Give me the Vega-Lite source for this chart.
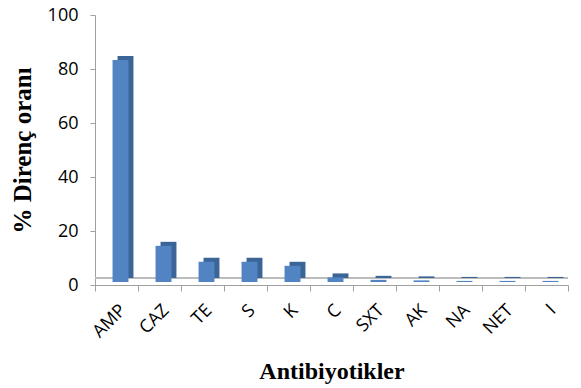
{
  "$schema": "https://vega.github.io/schema/vega-lite/v6.json",
  "autosize": {"type": "none"},
  "width": 473,
  "height": 270,
  "padding": {"left": 95, "top": 15, "right": 13, "bottom": 103},
  "background": "white",
  "data": {"values": [
    {"ab": "AMP", "v": 82.2},
    {"ab": "CAZ", "v": 13.4},
    {"ab": "TE", "v": 7.5},
    {"ab": "S", "v": 7.5},
    {"ab": "K", "v": 6},
    {"ab": "C", "v": 1.7},
    {"ab": "SXT", "v": 0.8},
    {"ab": "AK", "v": 0.6},
    {"ab": "NA", "v": 0.4},
    {"ab": "NET", "v": 0.4},
    {"ab": "I", "v": 0.4}
  ]},
  "config": {"view": {"stroke": null}},
  "encoding": {
    "x": {"field": "ab", "type": "nominal", "sort": null,
      "scale": {"paddingInner": 0, "paddingOuter": 0},
      "axis": {"title": "Antibiyotikler", "titleFont": "Liberation Serif", "titleFontSize": 24, "titleFontWeight": "bold", "titleColor": "black", "titlePadding": 19,
        "labelAngle": -45, "labelFont": "Open Sans", "labelFontSize": 18, "labelColor": "black", "labelPadding": 10,
        "tickBand": "extent", "tickColor": "#a0a0a0", "tickSize": 6, "domainColor": "#a0a0a0", "grid": false}},
    "y": {"field": "v", "type": "quantitative",
      "scale": {"domain": [0, 100]},
      "axis": {"title": "% Direnç oranı", "titleFont": "Liberation Serif", "titleFontSize": 25, "titleFontWeight": "bold", "titleColor": "black", "titlePadding": 12,
        "values": [0, 20, 40, 60, 80, 100], "labelFont": "Open Sans", "labelFontSize": 18, "labelColor": "black", "labelPadding": 12,
        "tickColor": "#a0a0a0", "tickSize": 5, "domainColor": "#a0a0a0", "grid": false}}
  },
  "layer": [
    {"mark": {"type": "rule", "color": "#bcbcbc", "strokeWidth": 2, "yOffset": -7},
     "encoding": {"y": {"datum": 0}, "x": null}},
    {"mark": {"type": "bar", "color": "#3b6597", "width": {"band": 0.37}, "xOffset": 9, "yOffset": -7}},
    {"mark": {"type": "bar", "color": "#5284c4", "width": {"band": 0.37}, "xOffset": 4, "yOffset": -3}}
  ]
}
